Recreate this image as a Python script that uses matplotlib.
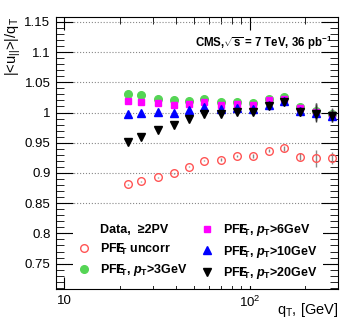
import matplotlib
matplotlib.use('Agg')
import matplotlib.pyplot as plt
from matplotlib.lines import Line2D
from matplotlib.ticker import MultipleLocator, NullFormatter, LogLocator

plt.rcParams['font.family'] = ['Liberation Sans', 'DejaVu Sans']
plt.rcParams['mathtext.fontset'] = 'custom'
plt.rcParams['mathtext.rm'] = 'Liberation Sans:bold'
plt.rcParams['mathtext.it'] = 'Liberation Sans:bold:italic'
plt.rcParams['mathtext.bf'] = 'Liberation Sans:bold'

# q_T bin centres [GeV]
qt = [22, 26, 32, 39, 47, 57, 70, 85, 104, 127, 153, 187, 228, 279]

# response |<u_par>|/q_T
uncorr = [0.881, 0.886, 0.893, 0.8995, 0.9105, 0.9205, 0.922, 0.928, 0.928, 0.937, 0.941, 0.927, 0.924, 0.924]
pt3 = [1.031, 1.0295, 1.023, 1.020, 1.0195, 1.0217, 1.017, 1.017, 1.016, 1.023, 1.025, 1.009, 1.002, 0.997]
pt6 = [1.0195, 1.018, 1.015, 1.013, 1.0145, 1.017, 1.013, 1.0133, 1.012, 1.020, 1.022, 1.007, 1.001, 0.9955]
pt10 = [0.998, 0.999, 1.0005, 1.0, 1.004, 1.009, 1.006, 1.007, 1.006, 1.013, 1.019, 1.003, 1.0, 0.995]
pt20 = [0.951, 0.9595, 0.9717, 0.979, 0.989, 0.998, 0.997, 1.001, 1.001, 1.010, 1.0167, 1.001, 0.998, 0.994]
err = [0.001, 0.001, 0.001, 0.001, 0.001, 0.001, 0.002, 0.002, 0.003, 0.003, 0.004, 0.006, 0.014, 0.010]

fig = plt.figure(figsize=(3.46, 3.32), dpi=100)
ax = fig.add_axes([0.1618, 0.1295, 0.8151, 0.8193])

ax.errorbar(qt, uncorr, yerr=err, fmt='o', mfc='none', mec='#ff5555', mew=1.0, ms=5.5,
            ecolor='#888888', elinewidth=1, zorder=3)
ax.errorbar(qt, pt3, yerr=err, fmt='o', color='#55d555', ms=5.5, ecolor='#555555', elinewidth=1, zorder=3)
ax.errorbar(qt, pt6, yerr=err, fmt='s', color='#ff00ff', ms=5, ecolor='#555555', elinewidth=1, zorder=4)
ax.errorbar(qt, pt10, yerr=err, fmt='^', color='#0000ff', ms=5.5, ecolor='#555555', elinewidth=1, zorder=5)
ax.errorbar(qt, pt20, yerr=err, fmt='v', color='black', ms=5.5, ecolor='#333333', elinewidth=1, zorder=6)

ax.set_xscale('log')
ax.set_xlim(9, 300)
ax.set_ylim(0.708, 1.158)

ax.yaxis.set_minor_locator(MultipleLocator(0.01))
ax.set_yticks([0.75, 0.8, 0.85, 0.9, 0.95, 1.0, 1.05, 1.1, 1.15])
ax.set_yticklabels(['0.75', '0.8', '0.85', '0.9', '0.95', '1', '1.05', '1.1', '1.15'])
ax.set_xticks([10, 100])
ax.set_xticklabels(['10', r'$\mathregular{10^2}$'])
ax.xaxis.set_minor_locator(LogLocator(base=10, subs=range(2, 10)))
ax.xaxis.set_minor_formatter(NullFormatter())

ax.tick_params(which='both', direction='in', top=True, right=True, labelsize=9.5, pad=4)
ax.tick_params(axis='y', which='major', length=12)
ax.tick_params(axis='y', which='minor', length=6)
ax.tick_params(axis='x', which='major', length=9)
ax.tick_params(axis='x', which='minor', length=5)

ax.grid(True, axis='y', which='major', linestyle=':', color='#888888', linewidth=0.8)

ax.set_ylabel(r'|<u$\mathregular{_{||}}$>|/q$\mathregular{_T}$', loc='top', fontsize=10.5, labelpad=1)
ax.set_xlabel(r'q$\mathregular{_T}$, [GeV]', loc='right', fontsize=10.5, labelpad=-6)

ax.text(0.98, 0.905, r'CMS,$\mathregular{\sqrt{s}}$ = 7 TeV, 36 pb$\mathregular{^{-1}}$', transform=ax.transAxes,
        ha='right', va='center', fontsize=8.3, fontweight='bold')

met = r'PF$\mathregular{E\!\!\!\!/_T}$'
handles = [
    Line2D([], [], linestyle='none', marker=''),
    Line2D([], [], linestyle='none', marker='o', mfc='none', mec='#ff5555', ms=5.5),
    Line2D([], [], linestyle='none', marker='o', color='#55d555', ms=5.5),
    Line2D([], [], linestyle='none', marker='s', color='#ff00ff', ms=5),
    Line2D([], [], linestyle='none', marker='^', color='#0000ff', ms=5.5),
    Line2D([], [], linestyle='none', marker='v', color='black', ms=5.5),
]
labels = [
    'Data,  \u22652PV',
    met + ' uncorr',
    met + r', $\mathit{p}\mathregular{_T}$>3GeV',
    met + r', $\mathit{p}\mathregular{_T}$>6GeV',
    met + r', $\mathit{p}\mathregular{_T}$>10GeV',
    met + r', $\mathit{p}\mathregular{_T}$>20GeV',
]
leg = ax.legend(handles, labels, ncol=2, loc='lower left', bbox_to_anchor=(0.038, -0.012),
                prop={'weight': 'bold', 'size': 9}, frameon=True, facecolor='white',
                edgecolor='none', framealpha=1, fancybox=False, handlelength=1.0,
                handletextpad=0.8, columnspacing=1.0, labelspacing=0.43, borderpad=0.4)

fig.savefig('out.png', dpi=100)
